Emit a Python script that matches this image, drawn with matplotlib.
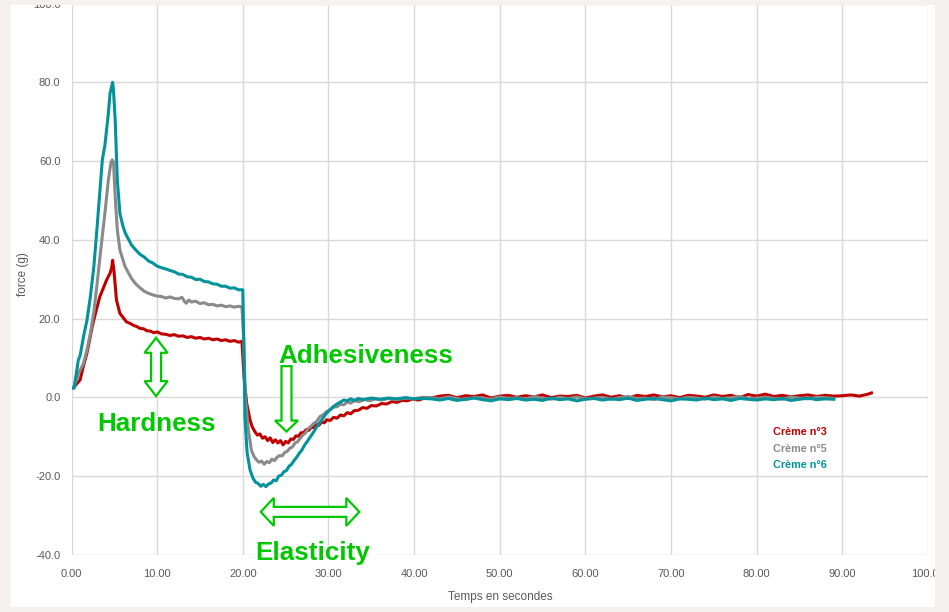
import numpy as np
import matplotlib.pyplot as plt
from matplotlib.patches import Rectangle, Polygon

# texture analyser curves: (time s, force g)
creme3 = [(0.0, 2.3), (0.3, 2.6), (1.0, 4.4), (1.4, 8.0), (1.8, 11.2), (2.5, 18.8), (3.3, 25.5),
          (4.1, 29.8), (4.5, 31.5), (4.7, 33.0), (4.8, 34.8), (4.95, 32.3), (5.25, 24.7),
          (5.65, 21.3), (6.4, 19.2), (6.9, 18.7), (7.3, 18.2), (7.6, 18.0), (8.0, 17.5), (8.4, 17.4),
          (8.8, 16.9), (9.2, 16.8), (9.6, 16.4), (10.0, 16.6), (10.5, 16.1), (11.0, 16.0),
          (11.5, 15.7), (12.0, 15.9), (12.5, 15.5), (13.0, 15.6), (13.5, 15.2), (14.0, 15.4),
          (14.5, 15.0), (15.0, 15.2), (15.5, 14.8), (16.0, 15.0), (16.5, 14.6), (17.0, 14.8),
          (17.5, 14.4), (18.0, 14.6), (18.5, 14.2), (19.0, 14.4), (19.5, 14.0), (19.9, 14.2),
          (20.15, 5.0), (20.45, -1.5), (20.85, -5.8), (21.1, -7.5), (21.4, -8.7), (21.7, -9.6),
          (22.0, -9.3), (22.3, -10.4), (22.6, -10.0), (22.9, -11.0), (23.2, -10.3), (23.5, -11.5),
          (23.8, -10.8), (24.1, -11.6), (24.4, -11.0), (24.7, -12.1), (25.0, -11.2), (25.3, -11.6),
          (25.6, -10.6), (25.9, -10.7), (26.2, -9.8), (26.5, -9.9), (26.8, -9.0), (27.1, -9.0),
          (27.4, -8.2), (27.7, -8.4), (28.0, -7.6), (28.3, -7.7), (28.6, -6.9), (28.9, -7.1),
          (29.2, -6.2), (29.5, -6.5), (29.8, -5.7), (30.2, -5.9), (30.6, -5.1), (31.0, -5.3),
          (31.4, -4.5), (31.8, -4.7), (32.2, -3.9), (32.6, -4.2), (33.0, -3.4), (33.5, -3.3),
          (34.0, -2.6), (34.5, -2.8), (35.0, -2.1), (35.6, -2.2), (36.2, -1.6), (36.8, -1.7),
          (37.4, -1.1), (38.0, -1.3), (38.6, -0.8), (39.2, -0.9), (39.8, -0.4), (40.5, -0.7),
          (41.1, -0.3)]
creme5 = [(0.0, 2.5), (0.3, 2.4), (0.8, 6.0), (1.4, 8.6), (1.8, 12.0), (2.2, 16.2), (2.6, 21.5),
          (2.95, 28.1), (3.5, 39.1), (3.9, 46.7), (4.3, 55.2), (4.6, 59.5), (4.75, 60.3),
          (4.9, 59.8), (5.1, 50.9), (5.35, 42.5), (5.65, 37.4), (6.25, 33.2), (7.0, 30.2),
          (7.5, 28.8), (8.0, 27.8), (8.5, 26.9), (9.0, 26.4), (9.5, 26.0), (10.0, 25.7),
          (10.5, 25.6), (11.0, 25.2), (11.5, 25.5), (12.0, 25.1), (12.5, 25.0), (12.9, 25.4),
          (13.2, 24.3), (13.4, 23.9), (13.7, 24.7), (14.0, 24.2), (14.5, 24.4), (15.0, 23.8),
          (15.5, 24.0), (16.0, 23.5), (16.5, 23.6), (17.0, 23.2), (17.5, 23.4), (18.0, 23.0),
          (18.5, 23.2), (19.0, 22.9), (19.5, 23.1), (19.9, 23.0), (20.1, 15.0), (20.3, 0.0),
          (20.65, -8.3), (21.0, -13.4), (21.3, -15.0), (21.6, -15.9), (21.9, -16.5), (22.2, -16.2),
          (22.5, -17.0), (22.8, -16.3), (23.1, -16.6), (23.4, -15.7), (23.7, -16.1), (24.0, -15.2),
          (24.3, -14.8), (24.6, -14.9), (24.9, -14.0), (25.2, -13.7), (25.5, -12.9), (25.8, -12.6),
          (26.1, -11.6), (26.4, -11.3), (26.7, -10.4), (27.0, -9.6), (27.3, -9.1), (27.6, -8.0),
          (27.9, -7.5), (28.3, -6.6), (28.6, -6.2), (29.0, -4.9), (29.4, -4.4), (29.8, -3.6),
          (30.2, -3.2), (30.6, -2.5), (31.0, -2.4), (31.4, -1.8), (31.8, -1.9), (32.2, -1.2),
          (32.6, -1.5), (33.0, -0.9), (33.6, -1.1), (34.2, -0.6), (34.8, -0.9), (35.5, -0.4),
          (36.2, -0.7), (37.0, -0.3), (38.0, -0.6), (39.0, -0.2), (40.0, -0.4), (41.0, 0.0)]
creme6 = [(0.0, 2.5), (0.3, 2.3), (0.8, 9.5), (1.0, 10.5), (1.4, 15.4), (1.8, 19.5), (2.2, 25.5),
          (2.6, 33.0), (2.9, 40.8), (3.3, 52.0), (3.6, 60.3), (3.9, 64.0), (4.1, 68.0), (4.3, 72.0),
          (4.5, 77.2), (4.7, 79.0), (4.8, 80.0), (4.9, 78.0), (5.1, 70.4), (5.35, 55.2),
          (5.65, 46.7), (6.0, 43.5), (6.3, 41.6), (7.0, 38.7), (7.5, 37.4), (8.0, 36.3), (8.5, 35.6),
          (9.0, 34.6), (9.5, 34.1), (10.0, 33.3), (10.5, 32.9), (11.0, 32.6), (11.5, 32.2),
          (12.0, 31.9), (12.5, 31.3), (13.0, 31.2), (13.5, 30.6), (14.0, 30.5), (14.5, 29.9),
          (15.0, 30.0), (15.5, 29.4), (16.0, 29.3), (16.5, 28.8), (17.0, 28.7), (17.5, 28.2),
          (18.0, 28.2), (18.5, 27.7), (19.0, 27.8), (19.5, 27.3), (20.0, 27.3),
          (20.15, 10.0), (20.25, -5.0), (20.5, -14.0), (20.85, -18.5), (21.2, -20.6), (21.5, -21.6),
          (21.8, -21.9), (22.1, -22.6), (22.4, -22.1), (22.7, -22.7), (23.0, -22.0), (23.3, -21.8),
          (23.6, -21.0), (23.9, -21.2), (24.2, -20.0), (24.5, -19.8), (24.8, -18.9), (25.1, -18.6),
          (25.4, -17.5), (25.7, -17.0), (26.0, -16.0), (26.3, -15.2), (26.6, -14.2), (26.9, -13.4),
          (27.2, -12.2), (27.5, -11.3), (27.9, -10.0), (28.3, -8.7), (28.6, -7.6), (29.0, -6.4),
          (29.4, -5.2), (29.8, -4.0), (30.2, -3.1), (30.6, -2.3), (31.0, -1.7), (31.4, -1.2),
          (31.8, -0.7), (32.2, -0.9), (32.6, -0.4), (33.0, -0.8), (33.5, -0.3), (34.0, -0.6),
          (35.0, -0.2), (36.0, -0.5), (37.0, -0.2), (38.0, -0.4), (39.0, -0.1), (40.0, -0.4),
          (41.0, -0.3)]

# baseline after 42 s, one reading per second
tail3 = [-0.2, 0.3, 0.5, -0.1, 0.4, 0.2, 0.6, -0.2, 0.3, 0.5,
         0.0, 0.4, 0.1, 0.6, -0.1, 0.3, 0.2, 0.5, -0.2, 0.3,
         0.6, 0.0, 0.4, -0.3, 0.5, 0.2, 0.6, 0.1, 0.4, -0.1,
         0.5, 0.3, 0.0, 0.6, 0.2, 0.5, -0.1, 0.7, 0.3, 0.8,
         0.2, 0.5, 0.1, 0.4, 0.6, 0.2, 0.5, 0.3, 0.4, 0.6,
         0.3, 0.8]
tail5 = [-0.1, -0.4, 0.1, -0.3, -0.6, 0.0, -0.2, -0.5, 0.1, -0.3,
         -0.1, -0.4, 0.2, -0.2, -0.5, 0.0, -0.3, 0.1, -0.4, -0.2,
         0.0, -0.5, -0.1, 0.2, -0.3, -0.2, -0.6, 0.1, -0.1, -0.4,
         0.0, -0.2, -0.5, 0.1, -0.3, -0.1, 0.2, -0.4, -0.2, 0.0,
         -0.3, -0.5, 0.1, -0.2, -0.4, 0.0, -0.1, -0.3]
tail6 = [-0.4, -0.7, -0.3, -0.8, -0.5, -0.2, -0.6, -0.9, -0.4, -0.6,
         -0.3, -0.7, -0.5, -0.8, -0.2, -0.6, -0.4, -0.9, -0.5, -0.3,
         -0.7, -0.4, -0.6, -0.2, -0.8, -0.5, -0.3, -0.6, -0.9, -0.4,
         -0.5, -0.7, -0.2, -0.6, -0.4, -0.8, -0.3, -0.5, -0.7, -0.4,
         -0.6, -0.3, -0.8, -0.5, -0.2, -0.6, -0.4, -0.5]
end3 = (93.4, 1.1)

labels = ['Crème n°3', 'Crème n°5', 'Crème n°6']
colors = ['#c00000', '#8a8a8a', '#01929c']

xticks = np.arange(0, 101, 10)
yticks = np.arange(-40, 101, 20)

W, H = 949, 612
fig = plt.figure(figsize=(W / 100, H / 100), dpi=100, facecolor='#f4f1ee')
fig.add_artist(Rectangle((11 / W, 1 - 607 / H), (935 - 11) / W, (607 - 4) / H,
                         transform=fig.transFigure, facecolor='white', edgecolor='none', zorder=0))
ax = fig.add_axes([71.5 / W, 1 - 554.8 / H, 856.5 / W, 551.3 / H])
ax.set_facecolor('white')

series = [(creme3, tail3, list(np.arange(42, 94)) + [end3[0]], end3[1]),
          (creme5, tail5, list(np.arange(42, 90)), None),
          (creme6, tail6, list(np.arange(42, 90)), None)]
for (pts, tail, tt, last), lab, c in zip(series, labels, colors):
    t, f = map(list, zip(*pts))
    t += tt
    f += tail + ([last] if last is not None else [])
    ax.plot(t, f, color=c, lw=2.2, solid_joinstyle='round', label=lab, zorder=3)

ax.set_xlim(0, 100)
ax.set_ylim(-40, 100)
ax.set_xticks(xticks)
ax.set_yticks(yticks)
tick_font = ['Liberation Sans Narrow', 'Liberation Sans']
ax.set_xticklabels(['%.2f' % v for v in xticks], family=tick_font, fontsize=8, color='#595959')
ax.set_yticklabels(['%.1f' % v for v in yticks], family=tick_font, fontsize=8, color='#595959')
ax.tick_params(length=0, pad=8)
ax.tick_params(axis='x', pad=10)
ax.grid(True, color='#d9d9d9', lw=1)
for s in ax.spines.values():
    s.set_visible(False)

fig.text(500 / W, 1 - 597 / H, 'Temps en secondes', ha='center', va='center',
         family=tick_font, fontsize=8.5, color='#595959')
fig.text(23 / W, 1 - 274 / H, 'force (g)', ha='center', va='center', rotation=90,
         family=tick_font, fontsize=8.5, color='#595959')

# legend as coloured text
for i, (lab, c) in enumerate(zip(labels, colors)):
    fig.text(773 / W, 1 - (432 + 16.5 * i) / H, lab, ha='left', va='center', color=c,
             family='Liberation Sans', fontweight='bold', fontsize=7.8)


def outline_arrow(p0, p1, shaft, head_w, head_len, double=True):
    # p0, p1 in data coords, sizes in pixels
    a = ax.transData.transform(p0)
    b = ax.transData.transform(p1)
    u = (b - a) / np.hypot(*(b - a))
    n = np.array([-u[1], u[0]])
    sw, hw = shaft / 2, head_w / 2
    pts = []
    if double:
        pts += [a, a + u * head_len + n * hw, a + u * head_len + n * sw]
    else:
        pts += [a + n * sw]
    pts += [b - u * head_len + n * sw, b - u * head_len + n * hw, b,
            b - u * head_len - n * hw, b - u * head_len - n * sw]
    if double:
        pts += [a + u * head_len - n * sw, a + u * head_len - n * hw]
    else:
        pts += [a - n * sw]
    fig.add_artist(Polygon(pts, closed=True, transform=None, facecolor='white',
                           edgecolor='#00c800', lw=1.6, zorder=5))


green = '#00c800'
ann_font = dict(family='Liberation Sans', fontweight='bold', fontsize=18.7, color=green, zorder=6)
outline_arrow((9.87, 15.1), (9.87, 0.3), 10, 23, 15)
ax.text(9.87, -8.5, 'Hardness', ha='center', va='baseline', **ann_font)
outline_arrow((25.1, 7.9), (25.1, -8.7), 10, 23, 11, double=False)
ax.text(34.4, 8.7, 'Adhesiveness', ha='center', va='baseline', **ann_font)
outline_arrow((22.1, -29.1), (33.6, -29.1), 10, 28, 13)
ax.text(28.2, -41.3, 'Elasticity', ha='center', va='baseline', clip_on=False, **ann_font)

# screenshot border cropping the top and right edge
fig.add_artist(Rectangle((0, 1 - 5 / H), 1, 5 / H, transform=fig.transFigure,
                         facecolor='#f4f1ee', edgecolor='none', zorder=10))
fig.add_artist(Rectangle((935 / W, 0), 14 / W, 1, transform=fig.transFigure,
                         facecolor='#f4f1ee', edgecolor='none', zorder=10))

fig.savefig('out.png', dpi=100, facecolor=fig.get_facecolor())
